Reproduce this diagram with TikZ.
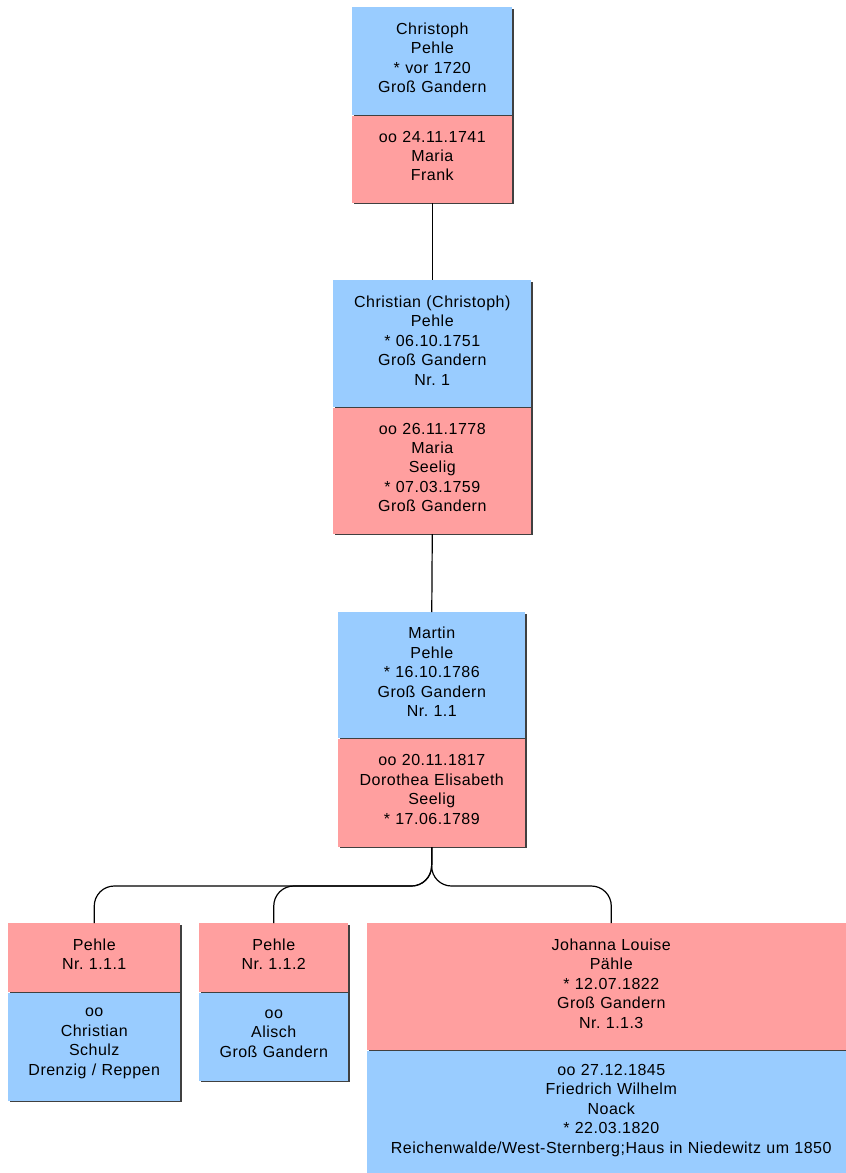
\documentclass[tikz,border=0pt]{standalone}
\usepackage{fontspec}
\setmainfont[LetterSpace=3]{Liberation Sans}
\usetikzlibrary{positioning,shadows}
\definecolor{pblau}{HTML}{99CCFF}
\definecolor{prot}{HTML}{FF9F9F}
\frenchspacing
\newcommand\kastenende{\endgraf\vspace*{5pt}}

\begin{document}
\begin{tikzpicture}[x=0.75pt, y=-0.75pt,
        node distance = 0pt,
        kasten/.style 2 args = {text width=#1, minimum height=#2, align=center,
                inner xsep=0pt, inner ysep=0pt, font=\fontsize{12}{14.6}\selectfont,
                execute at end node=\kastenende,
                drop shadow={fill=black!75, opacity=1, shadow xshift=1.1pt, shadow yshift=-1.1pt}},
        blau/.style = {fill=pblau},
        rot/.style = {fill=prot},
        linie/.style = {line width=0.9pt, black},
    ]
        \useasboundingbox (0,0) rectangle (845,1173);

        % Vorfahren
        \node[kasten={120pt}{81pt}, blau, anchor=north west] (p1) at (352,7)
            {Christoph\\Pehle\\{*} vor 1720\\Groß Gandern};
        \node[kasten={120pt}{65.25pt}, rot, below=of p1] (p1e)
            {oo 24.11.1741\\Maria\\Frank};

        \node[kasten={148.5pt}{95.25pt}, blau, anchor=north west] (p2) at (333,280)
            {Christian (Christoph)\\Pehle\\{*} 06.10.1751\\Groß Gandern\\Nr. 1};
        \node[kasten={148.5pt}{94.5pt}, rot, below=of p2] (p2e)
            {oo 26.11.1778\\Maria\\Seelig\\{*} 07.03.1759\\Groß Gandern};

        \node[kasten={140.25pt}{94.5pt}, blau, anchor=north west] (p3) at (338,612)
            {Martin\\Pehle\\{*} 16.10.1786\\Groß Gandern\\Nr. 1.1};
        \node[kasten={140.25pt}{81pt}, rot, below=of p3] (p3e)
            {oo 20.11.1817\\Dorothea Elisabeth\\Seelig\\{*} 17.06.1789};

        % Kinder
        \node[kasten={129pt}{51.75pt}, rot, anchor=north west] (k1) at (8,923)
            {Pehle\\Nr. 1.1.1};
        \node[kasten={129pt}{81pt}, blau, below=of k1] (k1e)
            {oo\\Christian\\Schulz\\Drenzig / Reppen};

        \node[kasten={111.75pt}{51.75pt}, rot, anchor=north west] (k2) at (199,923)
            {Pehle\\Nr. 1.1.2};
        \node[kasten={111.75pt}{66pt}, blau, below=of k2] (k2e)
            {oo\\Alisch\\Groß Gandern};

        \node[kasten={366pt}{95.25pt}, rot, anchor=north west] (k3) at (367,923)
            {Johanna Louise\\Pähle\\{*} 12.07.1822\\Groß Gandern\\Nr. 1.1.3};
        \node[kasten={366pt}{94.5pt}, blau, below=of k3] (k3e)
            {oo 27.12.1845\\Friedrich Wilhelm\\Noack\\{*} 22.03.1820\\Reichenwalde/West-Sternberg;Haus in Niedewitz um 1850};

        % Verbindungen
        \draw[linie] (p1e.south) -- (p2.north);
        \draw[linie] (p2e.south) -- (p3.north);

        \coordinate (gabel) at (431.5,886);
        \draw[linie, rounded corners=15pt] (p3e.south) -- (gabel) -| (k1.north);
        \draw[linie, rounded corners=15pt] (p3e.south) -- (gabel) -| (k2.north);
        \draw[linie, rounded corners=15pt] (p3e.south) -- (gabel) -| (k3.north);
    \end{tikzpicture}
\end{document}
